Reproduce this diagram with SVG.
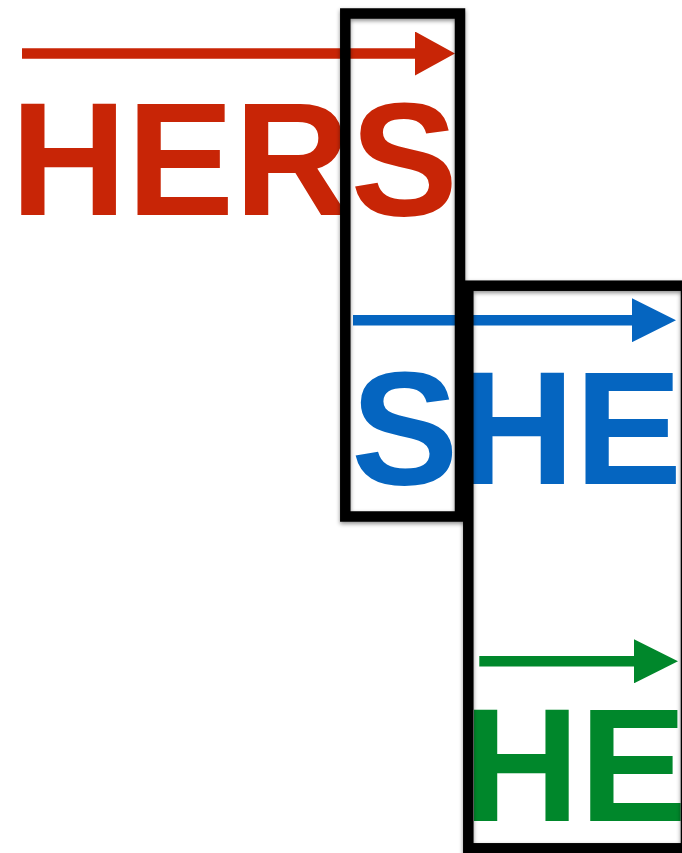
<svg xmlns="http://www.w3.org/2000/svg" width="682" height="853" viewBox="0 0 682 853">
  <style>
    .word { font-family: "Liberation Sans", Arial, Helvetica, sans-serif; font-weight: bold; font-size: 161px; }
    .red { fill: #C82506; }
    .blue { fill: #0565C0; }
    .green { fill: #00872B; }
    .shaft { stroke-width: 10.5; fill: none; }
    .box { fill: none; stroke: #000; stroke-width: 10.5; filter: url(#shadow); }
  </style>
  <defs>
    <filter id="shadow" x="-20%" y="-20%" width="140%" height="140%">
      <feDropShadow dx="0" dy="2" stdDeviation="2.2" flood-color="#000" flood-opacity="0.45"/>
    </filter>
    <marker id="headRed" viewBox="0 0 40 44" refX="0" refY="22" markerWidth="40" markerHeight="44" markerUnits="userSpaceOnUse" orient="auto">
      <path d="M0,0 L40,22 L0,44 Z" fill="#C82506"/>
    </marker>
    <marker id="headBlue" viewBox="0 0 44 44" refX="0" refY="22" markerWidth="44" markerHeight="44" markerUnits="userSpaceOnUse" orient="auto">
      <path d="M0,0 L44,22 L0,44 Z" fill="#0565C0"/>
    </marker>
    <marker id="headGreen" viewBox="0 0 44 44" refX="0" refY="22" markerWidth="44" markerHeight="44" markerUnits="userSpaceOnUse" orient="auto">
      <path d="M0,0 L44,22 L0,44 Z" fill="#00872B"/>
    </marker>
  </defs>

  <g id="connectors">
    <line class="shaft" x1="22" y1="53.5" x2="415" y2="53.5" stroke="#C82506" marker-end="url(#headRed)"/>
    <line class="shaft" x1="353" y1="320.2" x2="632" y2="320.2" stroke="#0565C0" marker-end="url(#headBlue)"/>
    <line class="shaft" x1="479.3" y1="661.3" x2="634" y2="661.3" stroke="#00872B" marker-end="url(#headGreen)"/>
  </g>

  <g id="word-hers">
    <text class="word red" x="10.5" y="215">HERS</text>
  </g>
  <g id="word-she">
    <text class="word blue" x="351" y="484.3">SHE</text>
  </g>
  <g id="word-he">
    <text class="word green" x="463.3" y="820.7">HE</text>
  </g>

  <g id="box-s">
    <rect class="box" x="345.3" y="13.5" width="114.7" height="503"/>
  </g>
  <g id="box-he">
    <rect class="box" x="468.3" y="285.7" width="217.7" height="562.6"/>
  </g>
</svg>
